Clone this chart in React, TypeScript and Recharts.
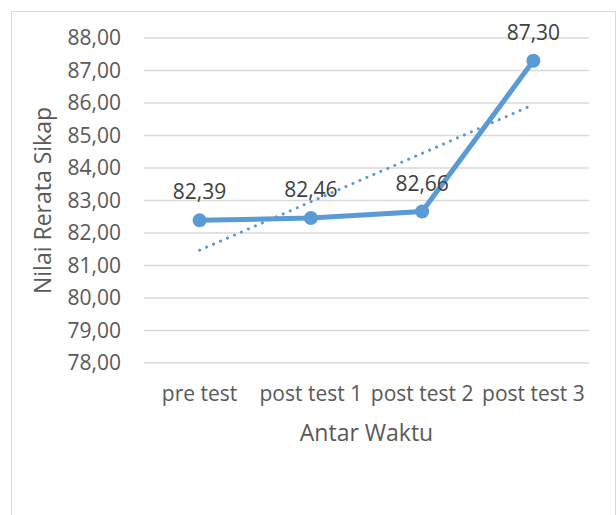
import { LineChart, Line, XAxis, YAxis, CartesianGrid, LabelList } from 'recharts'

const categories = ['pre test', 'post test 1', 'post test 2', 'post test 3']
const rerata = [82.39, 82.46, 82.66, 87.3]
// linear trendline
const trend = [81.47, 82.96, 84.45, 85.95]
const yTicks = [78, 79, 80, 81, 82, 83, 84, 85, 86, 87, 88]

const data = categories.map((name, i) => ({ name, value: rerata[i], trend: trend[i] }))

const blue = '#5B9BD5'
const textColor = '#595959'
const font = '"Open Sans", sans-serif'
const fmt = (v: number) => v.toFixed(2).replace('.', ',')

export default function App() {
  return (
    <div style={{ position: 'absolute', left: 0, top: 0, width: 616, height: 515, overflow: 'hidden', background: '#fff' }}>
      <div style={{ position: 'absolute', left: 11, top: 11, width: 603, height: 600, border: '1px solid #D9D9D9' }} />
      <LineChart
        width={616}
        height={515}
        data={data}
        margin={{ top: 38, right: 27, bottom: 72, left: 0 }}
        style={{ position: 'absolute', left: 0, top: 0, fontFamily: font }}
      >
        <CartesianGrid vertical={false} stroke="#D9D9D9" strokeWidth={1.3} />
        <XAxis
          dataKey="name"
          height={80}
          axisLine={false}
          tickLine={false}
          tickMargin={17}
          padding={{ left: 55.6, right: 55.6 }}
          tick={{ fill: textColor, fontSize: 21, fontFamily: font }}
          label={{ value: 'Antar Waktu', position: 'center', dy: 30, fill: textColor, fontSize: 23, fontFamily: font }}
        />
        <YAxis
          width={144}
          domain={[78, 88]}
          ticks={yTicks}
          interval={0}
          axisLine={false}
          tickLine={false}
          tickMargin={17}
          tickFormatter={fmt}
          tick={{ fill: textColor, fontSize: 21, fontFamily: font }}
          label={{ value: 'Nilai Rerata Sikap', angle: -90, position: 'center', dx: -29, fill: textColor, fontSize: 23, fontFamily: font }}
        />
        <Line
          dataKey="value"
          stroke={blue}
          strokeWidth={5}
          dot={{ r: 7, fill: blue, stroke: blue, strokeWidth: 0 }}
          activeDot={false}
          isAnimationActive={false}
        >
          <LabelList dataKey="value" position="top" offset={21} formatter={(v: number) => fmt(v)} fill="#404040" fontSize={21} fontFamily={font} />
        </Line>
        <Line
          dataKey="trend"
          stroke={blue}
          strokeWidth={3}
          strokeDasharray="0.1 7.5"
          strokeLinecap="round"
          dot={false}
          activeDot={false}
          isAnimationActive={false}
        />
      </LineChart>
    </div>
  )
}
